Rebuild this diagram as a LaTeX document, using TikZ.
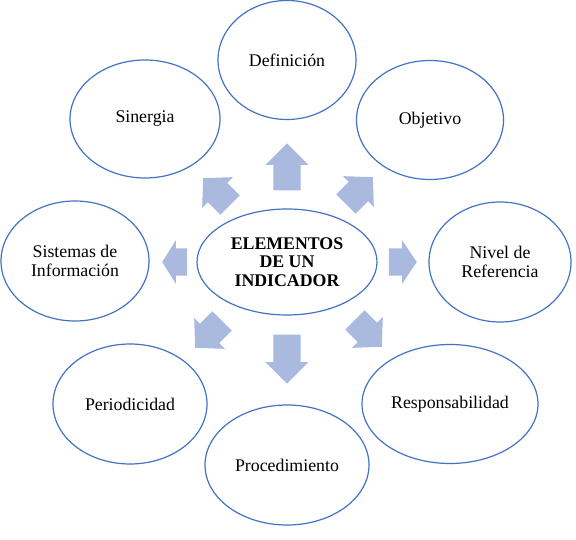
\documentclass[tikz,border=0pt]{standalone}
\usepackage{fontspec}
\setmainfont{Liberation Serif}
\usetikzlibrary{shapes.geometric,shapes.arrows}
\definecolor{ringblue}{RGB}{68,114,196}
\definecolor{arrowblue}{RGB}{170,185,222}

\begin{document}
\begin{tikzpicture}[x=1pt,y=-1pt,
  elem/.style={ellipse,draw=ringblue,line width=1.2pt,fill=white,inner sep=0pt,
    align=center,font=\fontsize{17.8}{19}\selectfont},
  blockarr/.style={single arrow,fill=arrowblue,draw=none,inner xsep=0pt,
    inner ysep=13.5pt,single arrow head extend=8pt,anchor=tip}]
  \useasboundingbox (0,0) rectangle (576,540);

  % centre
  \node[elem,minimum width=180pt,minimum height=106pt,
    font=\fontsize{17.8}{18.3}\selectfont\bfseries] (core) at (287,262)
    {ELEMENTOS\\DE UN\\INDICADOR};

  % outer ring
  \node[elem,minimum width=138pt,minimum height=119pt] (def) at (287,60) {Definición};
  \node[elem,minimum width=147pt,minimum height=119pt] (obj) at (430,120) {Objetivo};
  \node[elem,minimum width=142pt,minimum height=120pt] (niv) at (500,262) {Nivel de\\Referencia};
  \node[elem,minimum width=176pt,minimum height=119pt] (resp) at (450,404) {Responsabilidad};
  \node[elem,minimum width=164pt,minimum height=120pt] (proc) at (287,465) {Procedimiento};
  \node[elem,minimum width=154pt,minimum height=120pt] (per) at (130,404) {Periodicidad};
  \node[elem,minimum width=148pt,minimum height=120pt] (sis) at (75,261) {Sistemas de\\Información};
  \node[elem,minimum width=150pt,minimum height=118pt] (sin) at (145,119) {Sinergia};

  % block arrows (placed by their tips)
  \node[blockarr,minimum height=47pt,single arrow tip angle=90,rotate=90] (aup) at (287,143) {};
  \node[blockarr,minimum height=49pt,single arrow tip angle=90,rotate=-90] (adown) at (287,384) {};
  \node[blockarr,minimum height=25pt,single arrow tip angle=116,rotate=180] (aleft) at (162,262) {};
  \node[blockarr,minimum height=28pt,single arrow tip angle=112] (aright) at (417,262) {};
  \node[blockarr,minimum height=38pt,single arrow tip angle=94,rotate=135] (anw) at (203,178) {};
  \node[blockarr,minimum height=38pt,single arrow tip angle=94,rotate=45] (ane) at (373,177) {};
  \node[blockarr,minimum height=38pt,single arrow tip angle=94,rotate=225] (asw) at (195,348) {};
  \node[blockarr,minimum height=38pt,single arrow tip angle=94,rotate=-45] (ase) at (382,347) {};
\end{tikzpicture}
\end{document}
